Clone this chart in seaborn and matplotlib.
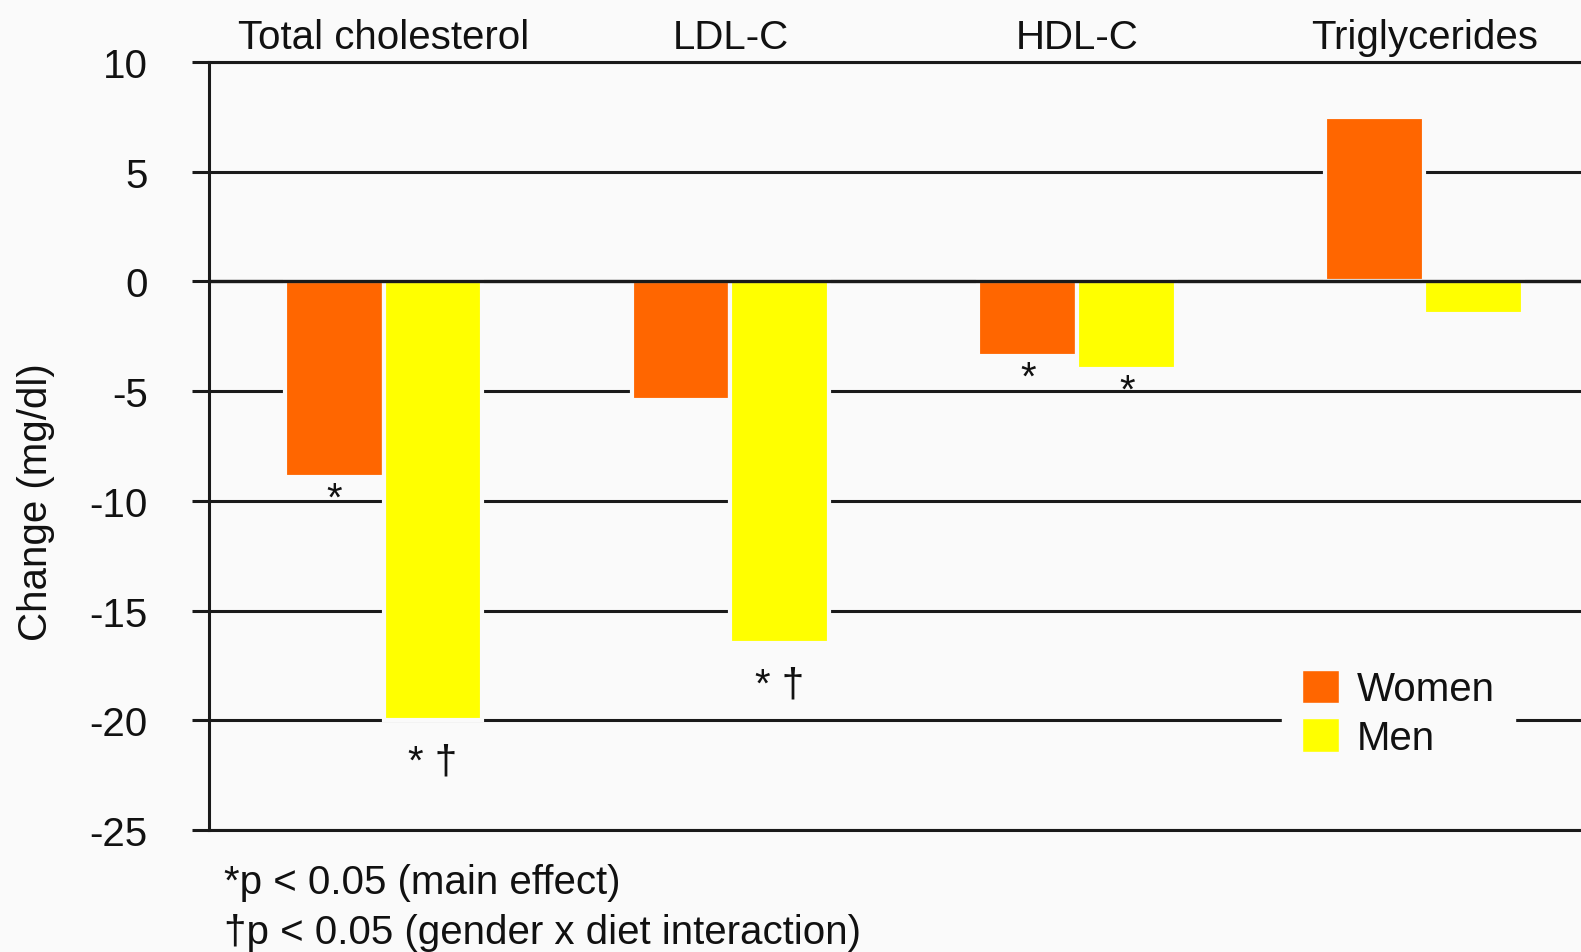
import matplotlib
matplotlib.use("Agg")
import matplotlib.pyplot as plt
import seaborn as sns
import pandas as pd
from matplotlib.patches import Patch

categories = ["Total cholesterol", "LDL-C", "HDL-C", "Triglycerides"]
groups = ["Women", "Men"]
women = [-8.9, -5.4, -3.4, 7.5]
men = [-20.0, -16.5, -4.0, -1.5]
women_marks = ["*", "", "*", ""]
men_marks = ["* \u2020", "* \u2020", "*", ""]
colors = {"Women": "#FF6600", "Men": "#FFFF00"}
yticks = [10, 5, 0, -5, -10, -15, -20, -25]
footnotes = ["*p < 0.05 (main effect)", "\u2020p < 0.05 (gender x diet interaction)"]

bg = "#fafafa"
ink = "#111111"
line = "#1a1a1a"
FS = 29

sns.set_theme(style="white")
plt.rcParams["font.family"] = ["Liberation Sans", "DejaVu Sans"]

df = pd.DataFrame({
    "cat": categories * 2,
    "sex": ["Women"] * 4 + ["Men"] * 4,
    "val": women + men,
})

fig = plt.figure(figsize=(15.81, 9.53), dpi=100, facecolor=bg)
ax = fig.add_axes([0.132, 0.128, 0.868, 0.806])
ax.set_facecolor(bg)

sns.barplot(data=df, x="cat", y="val", hue="sex", order=categories,
            hue_order=groups, palette=colors, saturation=1, width=0.57,
            edgecolor=bg, linewidth=3, ax=ax, legend=False, zorder=3)

ax.set_ylim(-25, 10)
ax.set_xlim(-0.504, 3.452)
ax.set_yticks(yticks)
ax.set_yticklabels([str(t) for t in yticks], fontsize=FS, color=ink)
ax.yaxis.grid(True, color=line, linewidth=2.2, zorder=1)
ax.set_axisbelow(True)
ax.axhline(0, color=line, linewidth=2.4, zorder=5)
for side in ["top", "bottom", "left"]:
    ax.spines[side].set_visible(True)
    ax.spines[side].set_color(line)
    ax.spines[side].set_linewidth(2.2)
ax.spines["right"].set_visible(False)
ax.tick_params(axis="y", left=True, length=12, width=2.2, color=line, pad=32)

ax.xaxis.tick_top()
ax.tick_params(axis="x", top=False, bottom=False, length=0, pad=4.5, labelsize=FS)
ax.set_xticks(range(len(categories)))
ax.set_xticklabels(categories, fontsize=FS, color=ink)
ax.set_xlabel("")
ax.set_ylabel("Change (mg/dl)", fontsize=FS, color=ink)
ax.yaxis.set_label_coords(-0.112, 0.428)

# significance marks below bars
for bars, marks in [(ax.containers[0], women_marks), (ax.containers[1], men_marks)]:
    for rect, m in zip(bars, marks):
        if not m:
            continue
        x = rect.get_x() + rect.get_width() / 2
        ybottom = min(rect.get_y(), rect.get_y() + rect.get_height())
        off = -16 if "\u2020" in m else -2
        ax.annotate(m, (x, ybottom), xytext=(0, off), textcoords="offset points",
                    ha="center", va="top", fontsize=FS, color=ink, zorder=6)

handles = [Patch(facecolor=colors[g], edgecolor=bg, linewidth=1) for g in groups]
leg = ax.legend(handles, groups, loc="center", bbox_to_anchor=(0.867, 0.152),
                fontsize=FS, frameon=True, facecolor=bg, edgecolor=bg,
                framealpha=1, handlelength=0.9, handleheight=0.9,
                handletextpad=0.45, labelspacing=0.25, borderpad=0.5,
                borderaxespad=0, fancybox=False)
for t in leg.get_texts():
    t.set_color(ink)
leg.set_zorder(10)

fig.text(224 / 1581, 1 - 883 / 953, footnotes[0], fontsize=FS, color=ink,
         ha="left", va="center")
fig.text(224 / 1581, 1 - 933 / 953, footnotes[1], fontsize=FS, color=ink,
         ha="left", va="center")

fig.savefig("out.png", dpi=100, facecolor=bg)
